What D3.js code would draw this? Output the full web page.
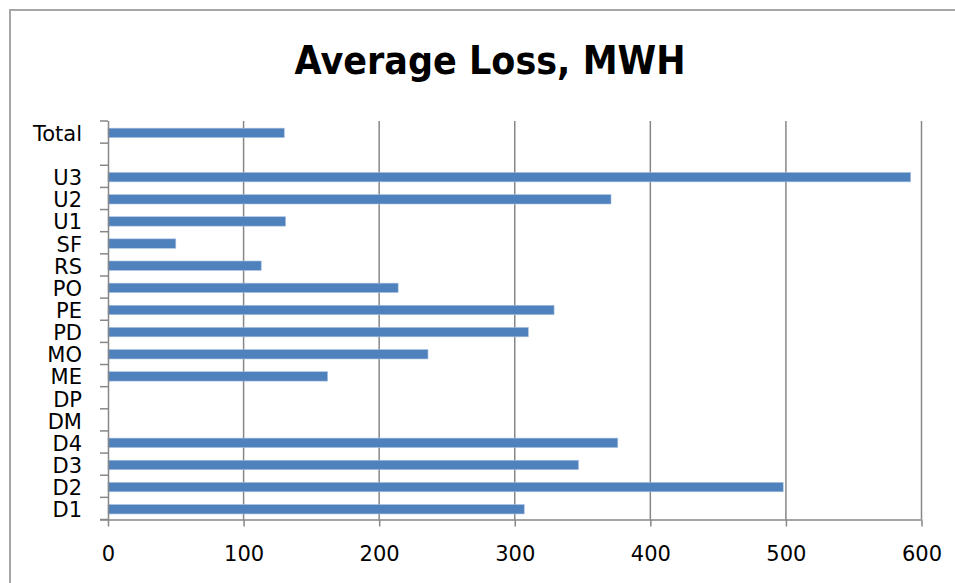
<!DOCTYPE html>
<html>
<head>
<meta charset="utf-8">
<script src="https://cdn.jsdelivr.net/npm/d3@7"></script>
<style>
  html, body { margin: 0; padding: 0; background: #fff; }
  svg { display: block; }
</style>
</head>
<body>
<div id="chart"></div>
<script>
// Categories listed top to bottom; " " is the empty spacer row above "Total".
const categories = ["Total", " ", "U3", "U2", "U1", "SF", "RS", "PO", "PE", "PD", "MO", "ME", "DP", "DM", "D4", "D3", "D2", "D1"];
const lossValues = [130, null, 592, 371, 131, 50, 113, 214, 329, 310, 236, 162, 0, 0, 376, 347, 498, 307];
const xTicks = [0, 100, 200, 300, 400, 500, 600];
const titleText = "Average Loss, MWH";

const W = 955, H = 583;
const plotLeft = 108, plotRight = 921.5, plotTop = 121, plotBottom = 519.5;

const svg = d3.select("#chart").append("svg")
  .attr("width", W).attr("height", H);

// outer chart frame
svg.append("rect")
  .attr("x", 10).attr("y", 10)
  .attr("width", W + 20).attr("height", H + 20)
  .attr("fill", "none").attr("stroke", "#a6a6a6").attr("stroke-width", 2);

// title, fitted to its measured width
svg.append("text")
  .attr("x", 294.5).attr("y", 74)
  .attr("font-family", "DejaVu Sans, sans-serif")
  .attr("font-weight", "bold")
  .attr("font-size", 39)
  .attr("fill", "#000")
  .attr("textLength", 391)
  .attr("lengthAdjust", "spacingAndGlyphs")
  .text(titleText);

const x = d3.scaleLinear().domain([0, 600]).range([plotLeft, plotRight]);
const pad = 0.575;
const y = d3.scaleBand().domain(categories).range([plotTop, plotBottom])
  .paddingInner(pad).paddingOuter(pad / 2);
const step = y.step();

const gridColor = "#878787";

// vertical gridlines
svg.append("g").selectAll("line")
  .data(xTicks.filter(d => d > 0))
  .join("line")
  .attr("x1", d => x(d)).attr("x2", d => x(d))
  .attr("y1", plotTop).attr("y2", plotBottom)
  .attr("stroke", gridColor).attr("stroke-width", 1.5);

// bars
svg.append("g").selectAll("rect")
  .data(categories.map((c, i) => ({ c, v: lossValues[i] })).filter(d => d.v != null))
  .join("rect")
  .attr("x", x(0))
  .attr("y", d => y(d.c) + 0.8)
  .attr("width", d => x(d.v) - x(0))
  .attr("height", y.bandwidth())
  .attr("fill", "#4f81bd")
  .attr("stroke", "#a9c1e0")
  .attr("stroke-width", 0.6);

// bottom axis
const xAxis = d3.axisBottom(x).tickValues(xTicks).tickSize(7).tickSizeOuter(0).tickPadding(20);
const gx = svg.append("g").attr("transform", `translate(0,${plotBottom})`).call(xAxis);
gx.select(".domain").attr("stroke", gridColor).attr("stroke-width", 1.5)
  .attr("d", `M${plotLeft - 8},0.5H${plotRight}`);
gx.selectAll(".tick line").attr("stroke", gridColor).attr("stroke-width", 1.5);
gx.selectAll(".tick text")
  .attr("font-family", "DejaVu Sans, sans-serif")
  .attr("font-size", 21)
  .attr("fill", "#000");

// left axis: labels at band centres, tick marks on band boundaries
const yAxis = d3.axisLeft(y).tickSize(0).tickPadding(26);
const gy = svg.append("g").attr("transform", `translate(${plotLeft},0)`).call(yAxis);
gy.select(".domain").attr("stroke", gridColor).attr("stroke-width", 1.5)
  .attr("d", `M0.5,${plotTop}V${plotBottom}`);
gy.selectAll(".tick text")
  .attr("font-family", "DejaVu Sans, sans-serif")
  .attr("font-size", 21)
  .attr("fill", "#000")
  .attr("dy", "0.42em");

const boundaries = categories.map(c => y(c) - step * pad / 2).concat([plotBottom]);
svg.append("g").selectAll("line")
  .data(boundaries)
  .join("line")
  .attr("x1", plotLeft - 8).attr("x2", plotLeft)
  .attr("y1", d => d).attr("y2", d => d)
  .attr("stroke", gridColor).attr("stroke-width", 1.5);
</script>
</body>
</html>
